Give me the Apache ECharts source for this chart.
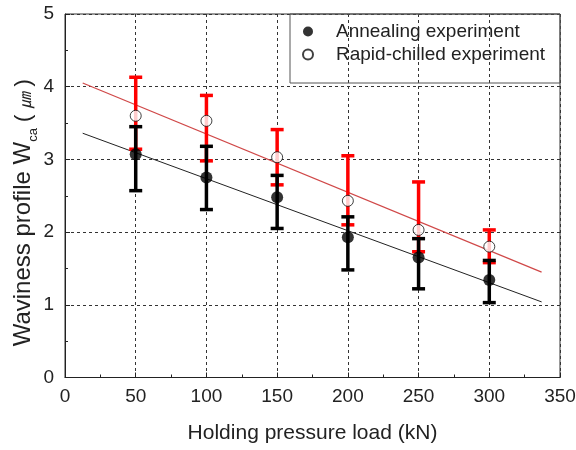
<!DOCTYPE html>
<html><head><meta charset="utf-8">
<script src="https://cdn.jsdelivr.net/npm/echarts@6/dist/echarts.min.js"></script>
<style>html,body{margin:0;padding:0;background:#fff}#c{width:576px;height:450px}</style>
</head><body><div id="c"></div>
<script>
const loads = [50, 100, 150, 200, 250, 300];
const annealMean  = [3.07, 2.75, 2.48, 1.93, 1.65, 1.34];
const annealUpper = [3.45, 3.18, 2.78, 2.21, 1.91, 1.61];
const annealLower = [2.57, 2.31, 2.05, 1.48, 1.22, 1.03];
const rapidMean  = [3.60, 3.53, 3.03, 2.43, 2.03, 1.80];
const rapidUpper = [4.13, 3.88, 3.41, 3.05, 2.69, 2.03];
const rapidLower = [3.14, 2.98, 2.65, 2.10, 1.73, 1.58];
const annealFit = [[12.5, 3.36], [337, 1.04]];
const rapidFit  = [[12.5, 4.05], [337, 1.45]];
const xTicks = [0, 50, 100, 150, 200, 250, 300, 350];
const yTicks = [0, 1, 2, 3, 4, 5];

const FONT = 'Liberation Sans, Arial, Noto Sans CJK KR, sans-serif';

function errData(up, lo) { return loads.map((x, i) => [x, up[i], lo[i]]); }
function errSeries(name, up, lo, color, z) {
  return {
    type: 'custom', name: name + '_err', z: z, silent: true,
    data: errData(up, lo),
    encode: { x: 0, y: [1, 2] },
    renderItem: function (params, api) {
      const x = api.value(0);
      const pTop = api.coord([x, api.value(1)]);
      const pBot = api.coord([x, api.value(2)]);
      const hw = 6.5;
      const st = { stroke: color, lineWidth: 3.5 };
      return { type: 'group', children: [
        { type: 'line', shape: { x1: pTop[0], y1: pTop[1], x2: pBot[0], y2: pBot[1] }, style: st },
        { type: 'line', shape: { x1: pTop[0] - hw, y1: pTop[1], x2: pTop[0] + hw, y2: pTop[1] }, style: st },
        { type: 'line', shape: { x1: pBot[0] - hw, y1: pBot[1], x2: pBot[0] + hw, y2: pBot[1] }, style: st }
      ]};
    }
  };
}

const chart = echarts.init(document.getElementById('c'), null, { renderer: 'canvas' });
chart.setOption({
  animation: false,
  backgroundColor: '#fff',
  grid: { left: 65, right: 16, top: 14, bottom: 72.5, containLabel: false, outerBoundsMode: 'none',
    show: true, borderColor: '#333', borderWidth: 1, backgroundColor: 'transparent' },
  legend: {
    orient: 'vertical', left: 290, top: 14,
    padding: [8, 15, 19, 12],
    itemWidth: 10, itemHeight: 10, itemGap: 4,
    borderColor: '#555', borderWidth: 1, backgroundColor: 'transparent',
    textStyle: { fontFamily: FONT, fontSize: 19, lineHeight: 19, color: '#222', padding: [0, 0, 0, 18] },
    data: [
      { name: 'Annealing experiment', icon: 'circle' },
      { name: 'Rapid-chilled experiment', icon: 'circle' }
    ]
  },
  xAxis: {
    type: 'value', min: 0, max: 350, interval: 50,
    name: 'Holding pressure load (kN)', nameLocation: 'middle', nameGap: 45, nameMoveOverlap: false,
    nameTextStyle: { fontFamily: FONT, fontSize: 21, color: '#222' },
    axisLine: { lineStyle: { color: '#222', width: 1 } },
    axisTick: { inside: true, length: 5, lineStyle: { color: '#222' } },
    minorTick: { show: true, splitNumber: 2, length: 3, lineStyle: { color: '#222' } },
    axisLabel: { fontFamily: FONT, fontSize: 19, color: '#222', margin: 10,
      formatter: v => xTicks.includes(v) ? String(v) : '' },
    splitLine: { show: true, lineStyle: { color: '#333', type: [3, 3], width: 1 } }
  },
  yAxis: {
    type: 'value', min: 0, max: 5, interval: 1,
    name: '{n|Waviness profile W}{s|ca}{p| ( }{u|㎛}{p| )}', nameLocation: 'middle', nameGap: 30, nameRotate: 90,
    nameMoveOverlap: false,
    nameTextStyle: { fontFamily: FONT, fontSize: 24, color: '#222', padding: [0, 34, 0, 0],
      rich: { n: { fontFamily: FONT, fontSize: 24, color: '#222', lineHeight: 28, verticalAlign: 'bottom' },
              s: { fontFamily: FONT, fontSize: 13, color: '#222', lineHeight: 28, verticalAlign: 'bottom', padding: [0, 0, -5, 0] },
              p: { fontFamily: FONT, fontSize: 22, color: '#222', lineHeight: 28, verticalAlign: 'bottom' },
              u: { fontFamily: FONT, fontSize: 16, fontStyle: 'italic', color: '#222', lineHeight: 28, verticalAlign: 'bottom' } } },
    axisLine: { show: true, lineStyle: { color: '#222', width: 1 } },
    axisTick: { show: true, inside: true, length: 5, lineStyle: { color: '#222' } },
    minorTick: { show: true, splitNumber: 2, length: 3, lineStyle: { color: '#222' } },
    axisLabel: { fontFamily: FONT, fontSize: 19, color: '#222', margin: 11,
      formatter: v => yTicks.includes(v) ? String(v) : '' },
    splitLine: { show: true, lineStyle: { color: '#333', type: [3, 3], width: 1 } }
  },
  series: [
    { type: 'line', name: 'rapidFit', data: rapidFit, symbol: 'none', silent: true, z: 2,
      lineStyle: { color: '#d04848', width: 1.2 } },
    { type: 'line', name: 'annealFit', data: annealFit, symbol: 'none', silent: true, z: 2,
      lineStyle: { color: '#222', width: 1 } },
    errSeries('rapid', rapidUpper, rapidLower, '#ff0000', 3),
    errSeries('anneal', annealUpper, annealLower, '#000000', 4),
    { type: 'scatter', name: 'Rapid-chilled experiment', z: 5,
      data: loads.map((x, i) => [x, rapidMean[i]]), symbol: 'circle', symbolSize: 11,
      itemStyle: { color: '#fff', borderColor: '#111', borderWidth: 1 } },
    { type: 'scatter', name: 'Annealing experiment', z: 6,
      data: loads.map((x, i) => [x, annealMean[i]]), symbol: 'circle', symbolSize: 12,
      itemStyle: { color: '#000', borderColor: '#000', borderWidth: 0 } }
  ]
});
</script></body></html>
